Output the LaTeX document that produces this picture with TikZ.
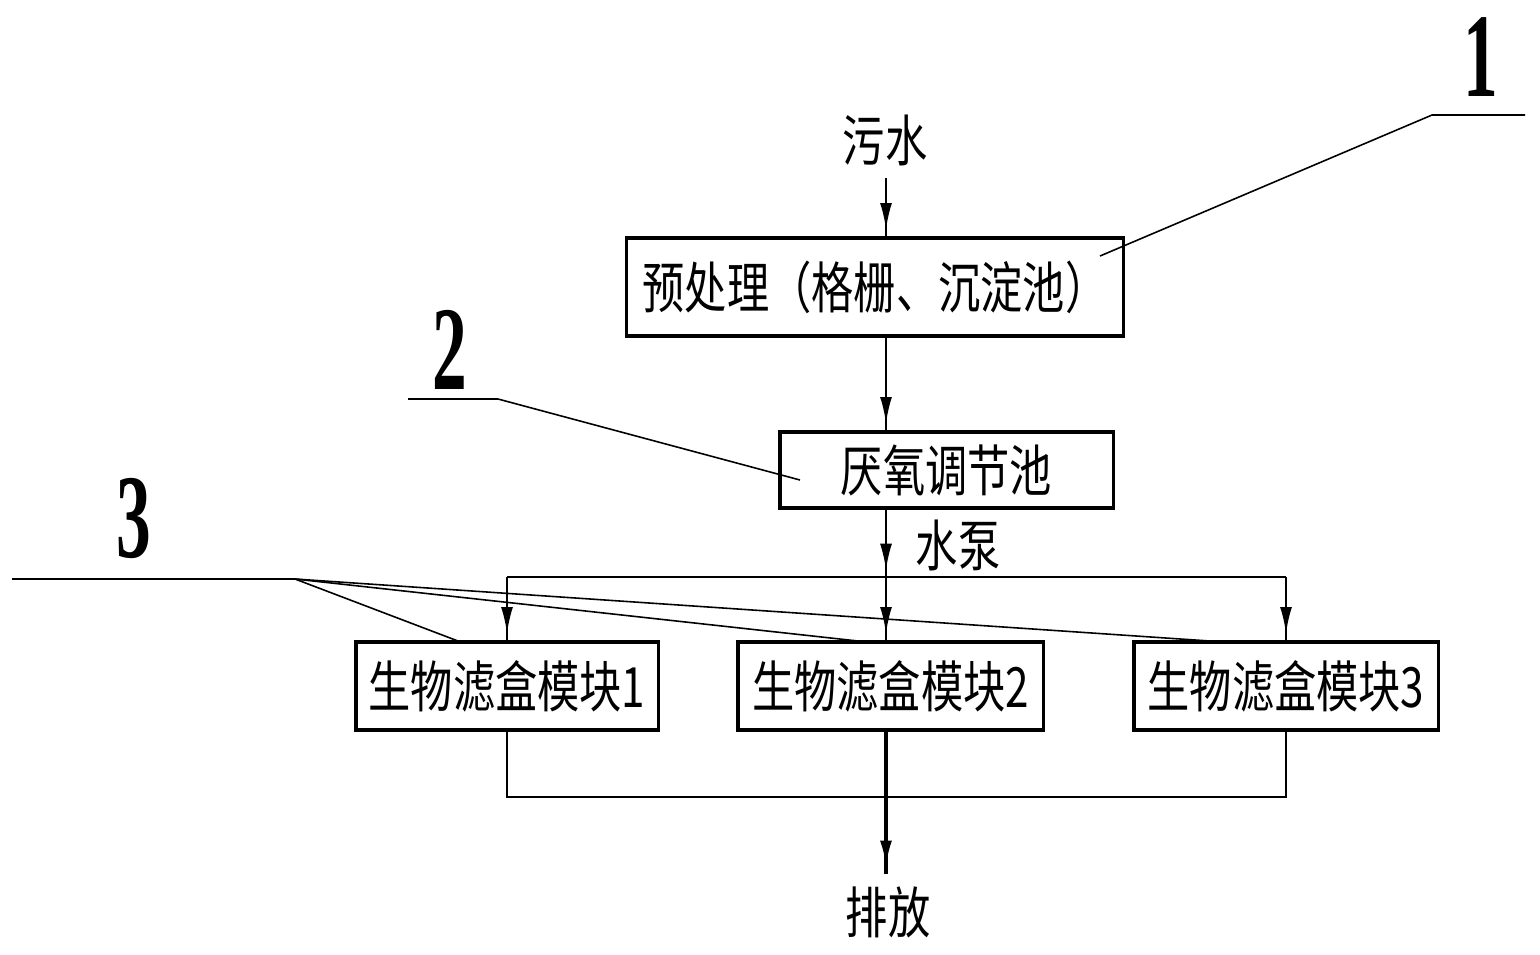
\documentclass[tikz,border=0pt]{standalone}
\usepackage{fontspec}
\setmainfont{Noto Sans CJK SC}
\newfontfamily\numfont{Liberation Serif}
\usetikzlibrary{arrows.meta, decorations.markings}
\newcommand{\cjktxt}[1]{{\fontsize{15.8pt}{18pt}\selectfont\scalebox{0.76}[1]{#1}}}
\newcommand{\bignum}[1]{\scalebox{0.58}[1]{#1}}
\tikzset{
  stage/.style={
    draw, line width=0.9pt,
    inner sep=0pt
  },
  flow/.style={
    line width=0.6pt,
    postaction={decorate},
    decoration={markings, mark=at position -0.07cm with {\arrow{Latex[length=7.5pt, width=3.4pt]}}}
  },
  pipe/.style={line width=0.6pt},
  leader/.style={line width=0.45pt},
  callout/.style={
    font=\numfont\bfseries\fontsize{34pt}{36pt}\selectfont,
    inner sep=0pt
  }
}

\begin{document}
\begin{tikzpicture}[x=0.01cm, y=-0.01cm]
  \useasboundingbox (0,0) rectangle (1540,954);

  % Stages
  \node[stage, minimum width=4.96cm, minimum height=0.98cm] (pre) at (875,287) {\cjktxt{预处理（格栅、沉淀池）}};
  \node[stage, minimum width=3.33cm, minimum height=0.76cm] (anaer) at (946.5,470) {\cjktxt{厌氧调节池}};
  \node[stage, minimum width=3.02cm, minimum height=0.88cm] (modA) at (507,686) {\cjktxt{生物滤盒模块1}};
  \node[stage, minimum width=3.05cm, minimum height=0.88cm] (modB) at (890.5,686) {\cjktxt{生物滤盒模块2}};
  \node[stage, minimum width=3.04cm, minimum height=0.88cm] (modC) at (1286,686) {\cjktxt{生物滤盒模块3}};

  % Texts
  \node (wushui) at (885,140) {\cjktxt{污水}};
  \node (pump) at (958,545) {\cjktxt{水泵}};
  \node (outlet) at (888,912) {\cjktxt{排放}};

  \coordinate (axis) at (886,0);
  \coordinate (split) at (886,577);
  \coordinate (merge) at (886,797);

  % Main flow
  \draw[flow] (wushui.south -| axis) -- (pre.north -| axis);
  \draw[flow] (pre.south -| axis) -- (anaer.north -| axis);
  \draw[flow] (anaer.south -| axis) -- (split);
  \draw[pipe] (modA.north |- split) -- (modC.north |- split);
  \draw[flow] (modA.north |- split) -- (modA.north);
  \draw[flow] (split) -- (modB.north -| axis);
  \draw[flow] (modC.north |- split) -- (modC.north);

  % Collection
  \draw[pipe] (modA.south) -- (modA.south |- merge) -- (modC.south |- merge) -- (modC.south);
  \draw[flow, line width=1pt] (modB.south -| axis) -- (outlet.north -| axis);

  % Callouts
  \node[callout] (n1) at (1481,57) {\bignum{1}};
  \node[callout] (n2) at (450,350) {\bignum{2}};
  \node[callout] (n3) at (134,518) {\bignum{3}};

  \coordinate (l1a) at (1525,115);
  \coordinate (l1b) at (1432,115);
  \coordinate (l2a) at (408,399);
  \coordinate (l2b) at (498,399);
  \coordinate (l3a) at (12,579);
  \coordinate (l3b) at (295,579);

  \draw[leader] (l1a) -- (l1b) -- (1100,256);
  \draw[leader] (l2a) -- (l2b) -- (800,480);
  \draw[leader] (l3a) -- (l3b) -- (458,641);
  \draw[leader] (l3b) -- (858,641);
  \draw[leader] (l3b) -- (1210,641);
\end{tikzpicture}
\end{document}
